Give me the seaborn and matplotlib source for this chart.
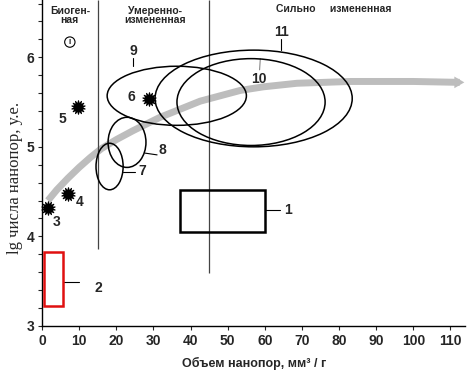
import matplotlib
matplotlib.use("Agg")
import matplotlib.pyplot as plt
from matplotlib.patches import Ellipse, Rectangle
import seaborn as sns
import pandas as pd

# ---- data ----
# gray trend curve (volume, lg count)
trend_x = [1.6, 4.0, 7.0, 10.0, 13.0, 16.0, 20.0, 24.5, 31.8, 42.6, 53.4, 59.6, 68.7, 83.0, 100.0, 112.5]
trend_y = [4.40, 4.52, 4.65, 4.77, 4.88, 4.98, 5.08, 5.18, 5.33, 5.51, 5.63, 5.67, 5.71, 5.73, 5.73, 5.72]

# star samples 3..6
star_labels = ["3", "4", "5", "6"]
star_x = [1.6, 7.0, 9.7, 28.8]
star_y = [4.32, 4.47, 5.45, 5.53]
star_lbl_x = [4.0, 10.0, 5.5, 24.0]
star_lbl_y = [4.16, 4.38, 5.31, 5.56]

# contour fields 7..11: centre, width, height
ell_labels = ["7", "8", "9", "10", "11"]
ell_x = [18.2, 22.9, 36.3, 56.3, 57.0]
ell_y = [4.78, 5.05, 5.57, 5.50, 5.54]
ell_w = [7.3, 10.2, 37.5, 39.9, 53.1]
ell_h = [0.52, 0.56, 0.66, 0.97, 1.08]
ell_lbl_x = [27.0, 32.5, 24.5, 58.5, 64.5]
ell_lbl_y = [4.73, 4.97, 6.07, 5.76, 6.28]

# rectangles 1 (black) and 2 (red)
rect_labels = ["1", "2"]
rect_x0 = [37.2, 0.5]
rect_x1 = [60.1, 5.7]
rect_y0 = [4.05, 3.22]
rect_y1 = [4.52, 3.83]
rect_lbl_x = [66.3, 15.1]
rect_lbl_y = [4.29, 3.42]
rect_color = ["black", "#e01010"]

# zone borders
border_x = [15, 45]
border_ymin = [3.86, 3.59]

zone_text = ["Биоген-\nная", "Умеренно-\nизмененная", "Сильно     измененная"]
zone_x = [7.5, 30.5, 78.7]
zone_y = [6.47, 6.47, 6.54]

sns.set_theme(style="ticks")
plt.rcParams["font.family"] = ["Liberation Sans", "DejaVu Sans"]
plt.rcParams["font.weight"] = "bold"

fig = plt.figure(figsize=(4.74, 3.75), dpi=100)
ax = fig.add_axes([0.0886, 0.131, 0.893, 0.869])

# zone border lines
ax.vlines(border_x, border_ymin, 6.64, color="#444444", lw=0.9)

# gray trend with arrow
trend = pd.DataFrame({"x": trend_x, "y": trend_y})
sns.lineplot(data=trend, x="x", y="y", sort=False, ax=ax, color="#bdbdbd",
             lw=5, solid_capstyle="butt", solid_joinstyle="round", zorder=1)
ax.annotate("", xy=(trend_x[-1] + 2.0, trend_y[-1]), xytext=(trend_x[-1] - 1, trend_y[-1]),
            arrowprops=dict(arrowstyle="-|>,head_length=0.6,head_width=0.35",
                            color="#bdbdbd", lw=0), annotation_clip=False)

# contour fields
for lbl, cx, cy, w, h, lx, ly in zip(ell_labels, ell_x, ell_y, ell_w, ell_h, ell_lbl_x, ell_lbl_y):
    ax.add_patch(Ellipse((cx, cy), w, h, fill=False, ec="black", lw=1.1, zorder=3))
    ax.text(lx, ly, lbl, fontsize=10, fontweight="bold", ha="center", va="center")

# leader lines of fields
ax.plot([ell_x[0] + ell_w[0] / 2, 25.0], [4.72, 4.72], color="black", lw=0.8)
ax.plot([ell_x[1] + ell_w[1] / 2 - 0.3, 31.0], [4.93, 4.91], color="black", lw=0.8)
ax.plot([24.5, 24.5], [ell_y[2] + ell_h[2] / 2, 5.99], color="black", lw=0.8)
ax.plot([58.8, 58.6], [ell_y[3] + ell_h[3] / 2, 5.86], color="#888888", lw=0.8)
ax.plot([64.5, 64.5], [ell_y[4] + ell_h[4] / 2, 6.2], color="black", lw=0.8)

# rectangles
for lbl, x0, x1, y0, y1, lx, ly, c in zip(rect_labels, rect_x0, rect_x1, rect_y0, rect_y1,
                                         rect_lbl_x, rect_lbl_y, rect_color):
    ax.add_patch(Rectangle((x0, y0), x1 - x0, y1 - y0, fill=False, ec=c, lw=1.8, zorder=3))
    ax.text(lx, ly, lbl, fontsize=10, fontweight="bold", ha="center", va="center")
ax.plot([rect_x1[0], 64.0], [4.29, 4.29], color="black", lw=0.8)
ax.plot([rect_x1[1], 10.0], [3.49, 3.49], color="black", lw=0.8)

# star samples: spiky blob = star + dot
stars = pd.DataFrame({"x": star_x, "y": star_y})
sns.scatterplot(data=stars, x="x", y="y", ax=ax, marker=(14, 1, 0), s=95,
                color="black", edgecolor="black", linewidth=0.8, zorder=4, clip_on=False)
sns.scatterplot(data=stars, x="x", y="y", ax=ax, marker="o", s=45,
                color="black", edgecolor="black", linewidth=0, zorder=4, clip_on=False)
for lbl, lx, ly in zip(star_labels, star_lbl_x, star_lbl_y):
    ax.text(lx, ly, lbl, fontsize=10, fontweight="bold", ha="center", va="center")

# zone titles
for t, zx, zy in zip(zone_text, zone_x, zone_y):
    ax.text(zx, zy, t, fontsize=7.5, fontweight="bold", ha="center", va="center",
            linespacing=0.9)
ax.text(7.5, 6.17, "I", fontsize=6, fontweight="bold", ha="center", va="center",
        bbox=dict(boxstyle="circle,pad=0.2", fc="white", ec="black", lw=0.8))

# axes
ax.set_xlim(0, 114)
ax.set_ylim(3, 6.64)
ax.set_xticks(range(0, 111, 10))
ax.set_yticks([3, 4, 5, 6])
ax.set_yticks([3 + 0.2 * i for i in range(19)], minor=True)
ax.tick_params(axis="both", which="both", direction="out", length=3, width=0.8,
               labelsize=10, pad=3)
ax.tick_params(axis="y", which="major", pad=2.5)
for lab in ax.get_xticklabels() + ax.get_yticklabels():
    lab.set_fontweight("bold")
sns.despine(ax=ax)
for sp in ax.spines.values():
    sp.set_linewidth(1.0)
    sp.set_color("black")

ax.set_xlabel("Объем нанопор, мм³ / г", fontsize=9, fontweight="bold", labelpad=6)
ax.set_ylabel("lg числа нанопор, у.е.", fontsize=12, fontweight="normal",
              family=["Liberation Serif", "DejaVu Serif"], labelpad=6)
ax.yaxis.set_label_coords(-0.045, 0.455)

fig.savefig("out.png", dpi=100)
